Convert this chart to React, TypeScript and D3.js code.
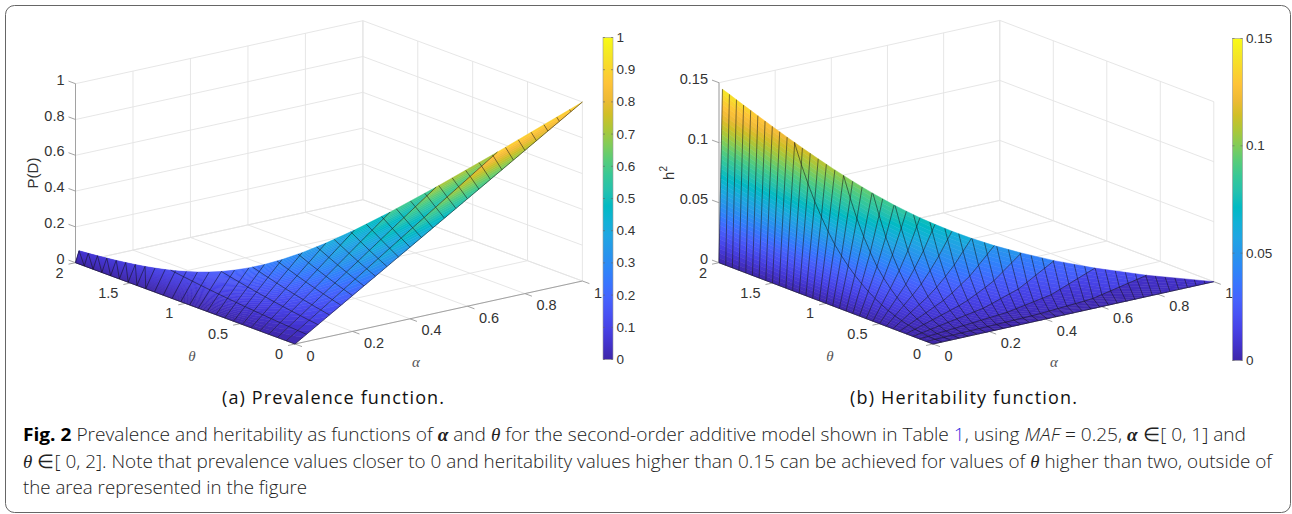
// App.tsx - prevalence and heritability surfaces, drawn with d3 scales
import React, { useMemo } from 'react';
import * as d3 from 'd3';

// prevalence mesh: 25 cells each way, upper edge read per theta line
const prevalenceThetas = [0, 0.08, 0.16, 0.24, 0.32, 0.4, 0.48, 0.56, 0.64, 0.72, 0.8, 0.88, 0.96, 1.04, 1.12, 1.2, 1.28, 1.36, 1.44, 1.52, 1.6, 1.68, 1.76, 1.84, 1.92, 2];
const prevalenceAlphas = [0, 0.04, 0.08, 0.12, 0.16, 0.2, 0.24, 0.28, 0.32, 0.36, 0.4, 0.44, 0.48, 0.52, 0.56, 0.6, 0.64, 0.68, 0.72, 0.76, 0.8, 0.84, 0.88, 0.92, 0.96];
const prevalenceEdgeAlpha = [1, 0.735, 0.5523, 0.423, 0.3294, 0.2603, 0.2084, 0.1688, 0.1382, 0.1143, 0.0953, 0.0801, 0.0678, 0.0577, 0.0495, 0.0427, 0.037, 0.0322, 0.0282, 0.0248, 0.0219, 0.0194, 0.0172, 0.0154, 0.0138, 0.0123];
const prevalenceEdge = [1, 0.7956, 0.6461, 0.534, 0.4481, 0.3811, 0.328, 0.2852, 0.2503, 0.2215, 0.1975, 0.1773, 0.1602, 0.1455, 0.1329, 0.1219, 0.1123, 0.1039, 0.0965, 0.0899, 0.0841, 0.0788, 0.0741, 0.0698, 0.066, 0.0625];

// heritability mesh: 32 cells each way
const heritabilityThetas = [0, 0.0625, 0.125, 0.1875, 0.25, 0.3125, 0.375, 0.4375, 0.5, 0.5625, 0.625, 0.6875, 0.75, 0.8125, 0.875, 0.9375, 1, 1.0625, 1.125, 1.1875, 1.25, 1.3125, 1.375, 1.4375, 1.5, 1.5625, 1.625, 1.6875, 1.75, 1.8125, 1.875, 1.9375, 2];
const heritabilityAlphas = [0, 0.03125, 0.0625, 0.09375, 0.125, 0.15625, 0.1875, 0.21875, 0.25, 0.28125, 0.3125, 0.34375, 0.375, 0.40625, 0.4375, 0.46875, 0.5, 0.53125, 0.5625, 0.59375, 0.625, 0.65625, 0.6875, 0.71875, 0.75, 0.78125, 0.8125, 0.84375, 0.875, 0.90625, 0.9375, 0.96875];
const heritabilityEdgeAlpha = [1, 0.7847, 0.6243, 0.5029, 0.4096, 0.337, 0.2798, 0.2342, 0.1975, 0.1678, 0.1434, 0.1233, 0.1066, 0.0927, 0.0809, 0.071, 0.0625, 0.0553, 0.049, 0.0437, 0.039, 0.035, 0.0314, 0.0283, 0.0256, 0.0232, 0.0211, 0.0192, 0.0175, 0.016, 0.0146, 0.0134, 0.0123];
const heritabilityEdge = [0, 0.0144, 0.0266, 0.037, 0.0461, 0.0539, 0.0608, 0.067, 0.0725, 0.0774, 0.082, 0.0861, 0.09, 0.0936, 0.097, 0.1002, 0.1033, 0.1062, 0.1091, 0.1118, 0.1145, 0.1171, 0.1197, 0.1222, 0.1247, 0.1272, 0.1296, 0.1321, 0.1345, 0.1369, 0.1393, 0.1417, 0.144];
// heritability half way and three quarters of the way along each theta line
const heritabilityHalf = [0, 0.002, 0.006, 0.0105, 0.0149, 0.019, 0.0228, 0.0263, 0.0294, 0.0323, 0.035, 0.0374, 0.0397, 0.0418, 0.0437, 0.0456, 0.0474, 0.0491, 0.0507, 0.0522, 0.0537, 0.0552, 0.0566, 0.058, 0.0594, 0.0607, 0.062, 0.0633, 0.0646, 0.0659, 0.0672, 0.0684, 0.0697];
const heritabilityThreeQuarter = [0, 0.0048, 0.0125, 0.0201, 0.0271, 0.0335, 0.0391, 0.0442, 0.0487, 0.0528, 0.0566, 0.06, 0.0632, 0.0662, 0.069, 0.0716, 0.0741, 0.0765, 0.0788, 0.081, 0.0831, 0.0853, 0.0873, 0.0893, 0.0913, 0.0932, 0.0951, 0.097, 0.0989, 0.1007, 0.1026, 0.1044, 0.1063];

// axis ticks
const alphaTicks = [0, 0.2, 0.4, 0.6, 0.8, 1];
const thetaTicks = [0, 0.5, 1, 1.5, 2];
const prevalenceTicks = [0, 0.2, 0.4, 0.6, 0.8, 1];
const heritabilityTicks = [0, 0.05, 0.1, 0.15];
const prevalenceBarTicks = [0, 0.1, 0.2, 0.3, 0.4, 0.5, 0.6, 0.7, 0.8, 0.9, 1];

// parula colormap
const parulaStops = ['#3e26a8', '#4332cb', '#4741e5', '#4852f4', '#4563fd', '#3875fe', '#2d87f7', '#2796eb', '#20a5e3', '#12b1d6', '#02bac3', '#24c1ae', '#37c897', '#57cc7a', '#81cc59', '#abc739', '#d1bf27', '#efba36', '#fec338', '#f9d62d', '#f5e924', '#f9fb15'];

const TICK_FONT = '"Liberation Sans", sans-serif';
const GRID = '#e3e3e3';
const AXIS = '#9a9a9a';
const TEXT = '#333';
const FILL_STEPS = 36;

type Pt = [number, number];

const fmt = (v: number) => String(v);

const Surface3D = ({ frame, zMax, zTicks, barTicks, thetas, alphas, edgeAlpha, heightAt, zLabel, zigzag, gradientId }: any) => {
  const { ox, oy, ax, ay, tx, ty, zh, bar } = frame;

  // projection of the box
  const alphaX = d3.scaleLinear().domain([0, 1]).range([0, ax]);
  const alphaY = d3.scaleLinear().domain([0, 1]).range([0, ay]);
  const thetaX = d3.scaleLinear().domain([0, 2]).range([0, tx]);
  const thetaY = d3.scaleLinear().domain([0, 2]).range([0, ty]);
  const zY = d3.scaleLinear().domain([0, zMax]).range([0, -zh]);
  const project = (a: number, t: number, z: number): Pt => [
    ox + alphaX(a) + thetaX(t),
    oy + alphaY(a) + thetaY(t) + zY(z),
  ];
  const line = d3.line<Pt>();

  const color = useMemo(() => d3.scaleLinear<string>()
    .domain(parulaStops.map((_, i) => (i / (parulaStops.length - 1)) * zMax))
    .range(parulaStops)
    .interpolate(d3.interpolateRgb)
    .clamp(true), [zMax]);

  // shaded faces, back to front
  const faces = useMemo(() => {
    const out: { d: string; fill: string }[] = [];
    for (let i = thetas.length - 2; i >= 0; i--) {
      for (let k = FILL_STEPS - 1; k >= 0; k--) {
        const u0 = k / FILL_STEPS;
        const u1 = (k + 1) / FILL_STEPS;
        const corners: [number, number][] = [[i, u0], [i, u1], [i + 1, u1], [i + 1, u0]];
        let zSum = 0;
        const pts = corners.map(([row, u]) => {
          const a = u * edgeAlpha[row];
          const z = heightAt(row, a);
          zSum += z;
          return project(a, thetas[row], z);
        });
        out.push({ d: line(pts) + 'Z', fill: color(zSum / 4) });
      }
    }
    return out;
  }, []);

  // mesh lines
  const meshLines = useMemo(() => {
    const out: string[] = [];
    // constant theta
    thetas.forEach((t: number, i: number) => {
      const as = alphas.filter((a: number) => a < edgeAlpha[i]).concat([edgeAlpha[i]]);
      out.push(line(as.map((a: number) => project(a, t, heightAt(i, a))))!);
    });
    // constant alpha
    alphas.forEach((a: number) => {
      const pts: Pt[] = [];
      let i = 0;
      while (i < thetas.length && edgeAlpha[i] > a) {
        pts.push(project(a, thetas[i], heightAt(i, a)));
        i++;
      }
      if (i < thetas.length && i > 0) {
        const f = (edgeAlpha[i - 1] - a) / (edgeAlpha[i - 1] - edgeAlpha[i]);
        const p0 = project(edgeAlpha[i - 1], thetas[i - 1], heightAt(i - 1, edgeAlpha[i - 1]));
        const p1 = project(edgeAlpha[i], thetas[i], heightAt(i, edgeAlpha[i]));
        pts.push([p0[0] + (p1[0] - p0[0]) * f, p0[1] + (p1[1] - p0[1]) * f]);
      }
      out.push(line(pts)!);
    });
    // teeth where no alpha line reaches
    if (zigzag) {
      thetas.forEach((t: number, i: number) => {
        if (i === 0 || t < zigzag) return;
        const top = project(edgeAlpha[i], t, heightAt(i, edgeAlpha[i]));
        const bottom = project(0, thetas[i - 1], 0);
        out.push(line([top, bottom])!);
      });
    }
    return out;
  }, []);

  const wall = (from: Pt, to: Pt, key: string, stroke = GRID) => (
    <line key={key} x1={from[0]} y1={from[1]} x2={to[0]} y2={to[1]} stroke={stroke} strokeWidth={0.9} />
  );

  const barY = d3.scaleLinear().domain([0, zMax]).range([bar.y1, bar.y0]);

  return (
    <g>
      {/* back walls and floor */}
      {alphaTicks.map(a => wall(project(a, 2, 0), project(a, 2, zMax), `wa${a}`))}
      {thetaTicks.map(t => wall(project(1, t, 0), project(1, t, zMax), `wt${t}`))}
      {zTicks.map((z: number) => (
        <g key={`wz${z}`}>
          {wall(project(0, 2, z), project(1, 2, z), 'l')}
          {wall(project(1, 2, z), project(1, 0, z), 'r')}
        </g>
      ))}
      {alphaTicks.map(a => wall(project(a, 0, 0), project(a, 2, 0), `fa${a}`))}
      {thetaTicks.map(t => wall(project(0, t, 0), project(1, t, 0), `ft${t}`))}

      {/* axes */}
      {wall(project(0, 0, 0), project(0, 2, 0), 'axt', AXIS)}
      {wall(project(0, 0, 0), project(1, 0, 0), 'axa', AXIS)}
      {wall(project(0, 2, 0), project(0, 2, zMax), 'axz', AXIS)}
      {alphaTicks.map(a => {
        const p = project(a, 0, 0);
        return (
          <g key={`ta${a}`}>
            {wall(p, [p[0] + 7, p[1] + 2.6], 't', AXIS)}
            <text x={p[0] + 11.5} y={p[1] + 11.5} dominantBaseline="central" fontFamily={TICK_FONT} fontSize={14.5} fill={TEXT}>{fmt(a)}</text>
          </g>
        );
      })}
      {thetaTicks.map(t => {
        const p = project(0, t, 0);
        return (
          <g key={`tt${t}`}>
            {wall(p, [p[0] - 7, p[1] + 1.5], 't', AXIS)}
            <text x={p[0] - 12} y={p[1] + 10} textAnchor="end" dominantBaseline="central" fontFamily={TICK_FONT} fontSize={14.5} fill={TEXT}>{fmt(t)}</text>
          </g>
        );
      })}
      {zTicks.map((z: number) => {
        const p = project(0, 2, z);
        return (
          <g key={`tz${z}`}>
            {wall(p, [p[0] - 7, p[1] - 2.6], 't', AXIS)}
            <text x={p[0] - 11} y={p[1] - 4} textAnchor="end" dominantBaseline="central" fontFamily={TICK_FONT} fontSize={14.5} fill={TEXT}>{fmt(z)}</text>
          </g>
        );
      })}

      {/* surface */}
      {faces.map((f, i) => (
        <path key={i} d={f.d} fill={f.fill} stroke={f.fill} strokeWidth={0.5} />
      ))}
      {meshLines.map((d, i) => (
        <path key={i} d={d} fill="none" stroke="#111" strokeOpacity={0.7} strokeWidth={0.75} />
      ))}

      {/* axis names */}
      <text transform={`translate(${frame.zLabelX},${frame.zLabelY}) rotate(-90)`} textAnchor="middle" dominantBaseline="central" fontFamily={TICK_FONT} fontSize={15} fill={TEXT}>{zLabel}</text>
      <text x={ox - 103} y={356} textAnchor="middle" dominantBaseline="central" fontFamily='"Liberation Serif", serif' fontStyle="italic" fontSize={15} fill="#555">θ</text>
      <text x={ox + 121} y={361.5} textAnchor="middle" dominantBaseline="central" fontFamily='"Liberation Serif", serif' fontStyle="italic" fontSize={15} fill="#555">α</text>

      {/* colorbar */}
      <rect x={bar.x} y={bar.y0} width={bar.w} height={bar.y1 - bar.y0} fill={`url(#${gradientId})`} stroke={AXIS} strokeWidth={0.6} />
      {barTicks.map((v: number) => (
        <g key={`bar${v}`}>
          <line x1={bar.x} x2={bar.x + 2} y1={barY(v)} y2={barY(v)} stroke="#666" strokeWidth={0.6} />
          <line x1={bar.x + bar.w - 2} x2={bar.x + bar.w} y1={barY(v)} y2={barY(v)} stroke="#666" strokeWidth={0.6} />
          <text x={bar.x + bar.w + 3.5} y={barY(v)} dominantBaseline="central" fontFamily={TICK_FONT} fontSize={13.5} fill={TEXT}>{fmt(v)}</text>
        </g>
      ))}
    </g>
  );
};

const prevalenceAt = (row: number, a: number) =>
  d3.scaleLinear().domain([0, prevalenceEdgeAlpha[row]]).range([0, prevalenceEdge[row]])(a);

const heritabilityAt = (row: number, a: number) =>
  d3.scaleLinear()
    .domain([0, heritabilityEdgeAlpha[row] * 0.5, heritabilityEdgeAlpha[row] * 0.75, heritabilityEdgeAlpha[row]])
    .range([0, heritabilityHalf[row], heritabilityThreeQuarter[row], heritabilityEdge[row]])(a);

const leftFrame = {
  ox: 295, oy: 344, ax: 287.4, ay: -63, tx: -219.5, ty: -81.3, zh: 179,
  zLabelX: 32.5, zLabelY: 173,
  bar: { x: 603, w: 10, y0: 37.5, y1: 359.5 },
};
const rightFrame = {
  ox: 933, oy: 344, ax: 280.8, ay: -62.3, tx: -214, ty: -81.3, zh: 180,
  zLabelX: 668, zLabelY: 173,
  bar: { x: 1232.5, w: 10, y0: 38.5, y1: 360.5 },
};

const CAPTION_FONT = '"Open Sans", sans-serif';
const MATH = { fontFamily: '"Liberation Serif", serif', fontStyle: 'italic' as const, fontWeight: 400 };

export default function App() {
  return (
    <svg width={1292} height={514} style={{ position: 'absolute', left: 0, top: 0, background: '#fff' }}>
      <defs>
        {['barLeft', 'barRight'].map(id => (
          <linearGradient key={id} id={id} x1="0" y1="1" x2="0" y2="0">
            {parulaStops.map((c, i) => (
              <stop key={i} offset={i / (parulaStops.length - 1)} stopColor={c} />
            ))}
          </linearGradient>
        ))}
      </defs>
      <rect x={5.5} y={5.5} width={1285} height={507} rx={9} fill="#fff" stroke="#666" strokeWidth={1} />

      <Surface3D frame={leftFrame} zMax={1} zTicks={prevalenceTicks} barTicks={prevalenceBarTicks}
        thetas={prevalenceThetas} alphas={prevalenceAlphas} edgeAlpha={prevalenceEdgeAlpha}
        heightAt={prevalenceAt} zLabel="P(D)" zigzag={1.4} gradientId="barLeft" />
      <Surface3D frame={rightFrame} zMax={0.15} zTicks={heritabilityTicks} barTicks={heritabilityTicks}
        thetas={heritabilityThetas} alphas={heritabilityAlphas} edgeAlpha={heritabilityEdgeAlpha}
        heightAt={heritabilityAt} zLabel={<>h<tspan dy={-5} fontSize={10}>2</tspan></>} gradientId="barRight" />

      <text x={222} y={404} textLength={222} lengthAdjust="spacing" fontFamily={CAPTION_FONT} fontSize={18} fill="#111">(a) Prevalence function.</text>
      <text x={850} y={404} textLength={227} lengthAdjust="spacing" fontFamily={CAPTION_FONT} fontSize={18} fill="#111">(b) Heritability function.</text>

      <g fontFamily={CAPTION_FONT} fontSize={18.5} fontWeight={300} fill="#222">
        <text x={23} y={441} textLength={1223} lengthAdjust="spacingAndGlyphs">
          <tspan fontWeight={700} fill="#000">Fig. 2</tspan> Prevalence and heritability as functions of <tspan {...MATH} fontWeight={700}>α</tspan> and <tspan {...MATH}>θ</tspan> for the second-order additive model shown in Table <tspan fill="#2a2ae0">1</tspan>, using <tspan fontStyle="italic">MAF</tspan> = 0.25, <tspan {...MATH} fontWeight={700}>α</tspan> ∈[ 0, 1] and
        </text>
        <text x={23} y={468} textLength={1249} lengthAdjust="spacingAndGlyphs">
          <tspan {...MATH}>θ</tspan> ∈[ 0, 2]. Note that prevalence values closer to 0 and heritability values higher than 0.15 can be achieved for values of <tspan {...MATH}>θ</tspan> higher than two, outside of
        </text>
        <text x={23} y={494} textLength={284} lengthAdjust="spacingAndGlyphs">the area represented in the figure</text>
      </g>
    </svg>
  );
}
